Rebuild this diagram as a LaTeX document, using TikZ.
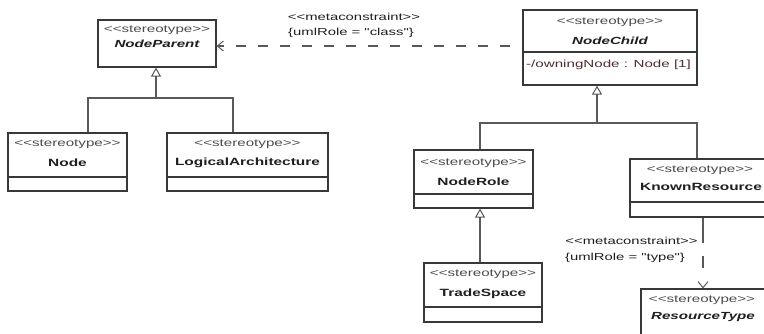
\documentclass[tikz,border=0pt]{standalone}
\usepackage{fontspec}
\setmainfont[FakeStretch=1.47, Ligatures=TeXOff]{Liberation Sans}
\usetikzlibrary{arrows.meta}
\definecolor{boxc}{gray}{0.22}
\definecolor{linec}{gray}{0.35}
\definecolor{txtc}{gray}{0.12}
\definecolor{sterc}{gray}{0.30}
\definecolor{attrc}{rgb}{0.32,0.18,0.18}
\tikzset{
  cls/.style={draw=boxc, line width=1.2pt, fill=white, inner sep=0pt, rectangle},
  sepline/.style={draw=boxc, line width=1.1pt},
  stereo/.style={inner sep=0pt, text=sterc, font=\fontsize{10.3}{12}\selectfont},
  cname/.style={inner sep=0pt, text=txtc, font=\fontsize{10.5}{12}\selectfont\bfseries},
  aname/.style={inner sep=0pt, text=txtc, font=\fontsize{10.3}{12}\selectfont\bfseries\itshape},
  attr/.style={inner sep=0pt, text=attrc, font=\fontsize{10.3}{12}\selectfont},
  lbl/.style={inner sep=0pt, text=txtc, font=\fontsize{10.1}{12}\selectfont},
  genline/.style={draw=linec, line width=1.1pt},
  genarrow/.style={genline, -{Triangle[open, length=9pt, width=10pt, line width=1pt]}},
  depline/.style={draw=linec, line width=1.1pt, -{Straight Barb[length=6pt, width=10pt, line width=1pt]}}
}
\begin{document}
\begin{tikzpicture}[x=1pt, y=-1pt]
\clip (0,0) rectangle (764,333);
\fill[white] (0,0) rectangle (764,333);

% class boxes
\node[cls, minimum width=118pt, minimum height=47pt] (np) at (157,43.5) {};
\node[cls, minimum width=174pt, minimum height=75pt] (nc) at (610,47.5) {};
\node[cls, minimum width=119pt, minimum height=58pt] (nd) at (67.5,162) {};
\node[cls, minimum width=161pt, minimum height=58pt] (la) at (247.5,162) {};
\node[cls, minimum width=119pt, minimum height=58pt] (nr) at (473.5,179) {};
\node[cls, minimum width=145pt, minimum height=58pt] (kr) at (702.5,188) {};
\node[cls, minimum width=118pt, minimum height=59pt] (ts) at (483,292.5) {};
\node[cls, minimum width=134pt, minimum height=61pt] (rt) at (708,319.5) {};

% compartment separators
\draw[sepline] (nc.west |- 0,52) -- (nc.east |- 0,52);
\draw[sepline] (nd.west |- 0,177) -- (nd.east |- 0,177);
\draw[sepline] (la.west |- 0,177) -- (la.east |- 0,177);
\draw[sepline] (nr.west |- 0,194) -- (nr.east |- 0,194);
\draw[sepline] (kr.west |- 0,202) -- (kr.east |- 0,202);
\draw[sepline] (ts.west |- 0,307) -- (ts.east |- 0,307);

% texts
\node[stereo] (np-s) at (157,30) {<<stereotype>>};
\node[aname]  (np-n) at (157,44) {NodeParent};
\node[stereo] (nc-s) at (610,22) {<<stereotype>>};
\node[aname]  (nc-n) at (610,41) {NodeChild};
\node[attr, anchor=west] (nc-a) at (526,65) {-/owningNode : Node [1]};
\node[stereo] (nd-s) at (67.5,144) {<<stereotype>>};
\node[cname]  (nd-n) at (67.5,163) {Node};
\node[stereo] (la-s) at (247.5,144) {<<stereotype>>};
\node[cname]  (la-n) at (247.5,163) {LogicalArchitecture};
\node[stereo] (nr-s) at (473.5,163) {<<stereotype>>};
\node[cname]  (nr-n) at (473.5,182) {NodeRole};
\node[stereo] (kr-s) at (700,170) {<<stereotype>>};
\node[cname]  (kr-n) at (701,187) {KnownResource};
\node[stereo] (ts-s) at (483,274) {<<stereotype>>};
\node[cname]  (ts-n) at (483,294) {TradeSpace};
\node[stereo] (rt-s) at (702,300) {<<stereotype>>};
\node[aname]  (rt-n) at (703,317) {ResourceType};

% generalizations
\coordinate (j1) at (156,98);
\draw[genline] (nd.north -| 88,0) -- (88,98) -- (233,98) -- (la.north -| 233,0);
\draw[genarrow] (j1) -- (np.south -| j1);
\coordinate (j2) at (597,123);
\draw[genline] (nr.north -| 480,0) -- (480,123) -- (697,123) -- (kr.north -| 697,0);
\draw[genarrow] (j2) -- (nc.south -| j2);
\draw[genarrow] (ts.north -| 480,0) -- (nr.south -| 480,0);

% metaconstraint dependencies
\draw[depline, dash pattern=on 10pt off 12pt, dash phase=10pt] (nc.west |- 0,46) -- (np.east |- 0,46);
\node[lbl] (m1a) at (354,17) {<<metaconstraint>>};
\node[lbl] (m1b) at (351,33) {\{umlRole = "class"\}};
\draw[depline, dash pattern=on 25pt off 13pt on 12pt off 30pt] (kr.south -| 703,0) -- (rt.north -| 703,0);
\node[lbl] (m2a) at (631.5,241) {<<metaconstraint>>};
\node[lbl] (m2b) at (625,258) {\{umlRole = "type"\}};
\end{tikzpicture}
\end{document}
